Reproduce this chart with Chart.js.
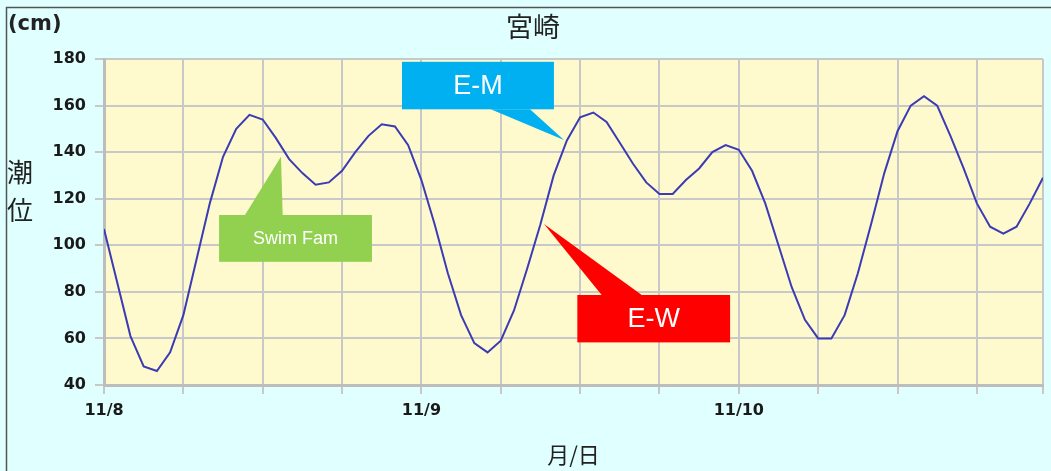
<!DOCTYPE html>
<html>
<head>
<meta charset="utf-8">
<script src="https://cdn.jsdelivr.net/npm/chart.js@4.4.1/dist/chart.umd.min.js"></script>
<style>
  html, body { margin: 0; padding: 0; background: #e0ffff; }
  #wrap { width: 1051px; height: 471px; }
</style>
</head>
<body>
<div id="wrap"><canvas id="tide" width="1051" height="471"></canvas></div>
<script>
// 宮崎の潮位 (cm)、11/8 0時から1時間ごと
var tide = [107, 84, 61, 48, 46, 54, 70, 94, 118, 138, 150, 156,
            154, 146, 137, 131, 126, 127, 132, 140, 147, 152, 151, 143,
            128, 109, 88, 70, 58, 54, 59, 72, 90, 109, 130, 145,
            155, 157, 153, 144, 135, 127, 122, 122, 128, 133, 140, 143,
            141, 132, 118, 100, 82, 68, 60, 60, 70, 88, 109, 131,
            149, 160, 164, 160, 147, 133, 118, 108, 105, 108, 118, 129];

// x軸の目盛り (時間)
var gridHours = [0, 6, 12, 18, 24, 30, 36, 42, 48, 54, 60, 66, 71];
var dayTicks = [0, 24, 48];
var dayLabels = ['11/8', '11/9', '11/10'];

// 吹き出し (データ座標: 時間, cm)
var callouts = [
  { text: 'Swim Fam', color: '#92d050', size: 18,
    box: [8.70, 20.26, 113.0, 92.9],
    arrow: [[10.66, 113.0], [13.51, 113.0], [13.38, 138.0]] },
  { text: 'E-M', color: '#00b0f0', size: 27,
    box: [22.53, 34.02, 178.8, 158.4],
    arrow: [[29.24, 158.4], [32.21, 158.4], [34.78, 145.2]] },
  { text: 'E-W', color: '#ff0000', size: 27,
    box: [35.79, 47.34, 78.65, 58.3],
    arrow: [[37.63, 78.65], [40.66, 78.65], [33.27, 109.1]] }
];

var cjk = "'Noto Sans CJK JP', 'Noto Sans', sans-serif";
var tickFont = { family: "'DejaVu Sans', sans-serif", size: 16, weight: 'bold' };

var decor = {
  id: 'decor',
  beforeDraw: function(chart) {
    var ctx = chart.ctx, a = chart.chartArea;
    ctx.save();
    ctx.fillStyle = '#e0ffff';
    ctx.fillRect(0, 0, chart.width, chart.height);
    ctx.fillStyle = '#fffacd';
    ctx.fillRect(a.left, a.top, a.right - a.left, a.bottom - a.top);
    // 外枠 (上と左)
    ctx.strokeStyle = '#555';
    ctx.lineWidth = 1.5;
    ctx.beginPath();
    ctx.moveTo(6.5, chart.height);
    ctx.lineTo(6.5, 7.5);
    ctx.lineTo(chart.width, 7.5);
    ctx.stroke();
    ctx.restore();
  },
  afterDatasetsDraw: function(chart) {
    var ctx = chart.ctx, xs = chart.scales.x, ys = chart.scales.y;
    ctx.save();
    callouts.forEach(function(c) {
      var x0 = xs.getPixelForValue(c.box[0]), x1 = xs.getPixelForValue(c.box[1]);
      var y0 = ys.getPixelForValue(c.box[2]), y1 = ys.getPixelForValue(c.box[3]);
      ctx.fillStyle = c.color;
      ctx.fillRect(x0, y0, x1 - x0, y1 - y0);
      ctx.beginPath();
      c.arrow.forEach(function(p, i) {
        var px = xs.getPixelForValue(p[0]), py = ys.getPixelForValue(p[1]);
        if (i === 0) ctx.moveTo(px, py); else ctx.lineTo(px, py);
      });
      ctx.closePath();
      ctx.fill();
      ctx.fillStyle = '#fff';
      ctx.font = c.size + "px 'Liberation Sans', sans-serif";
      ctx.textAlign = 'center';
      ctx.textBaseline = 'middle';
      ctx.fillText(c.text, (x0 + x1) / 2, (y0 + y1) / 2 + 1);
    });
    ctx.restore();
  },
  afterDraw: function(chart) {
    var ctx = chart.ctx, a = chart.chartArea;
    ctx.save();
    ctx.fillStyle = '#222';
    ctx.textBaseline = 'middle';
    ctx.textAlign = 'left';
    ctx.font = "bold 21px 'DejaVu Sans', sans-serif";
    ctx.fillText('(cm)', 8, 25);
    ctx.textAlign = 'center';
    ctx.font = '27px ' + cjk;
    ctx.fillText('宮崎', 533, 27);
    ctx.font = '26px ' + cjk;
    ctx.fillText('潮', 20, 172);
    ctx.fillText('位', 20, 210);
    ctx.font = '22px ' + cjk;
    ctx.fillText('月/日', (a.left + a.right) / 2, 455);
    ctx.restore();
  }
};

var ctx = document.getElementById('tide').getContext('2d');
var chart = new Chart(ctx, {
  type: 'line',
  data: {
    datasets: [{
      label: '潮位',
      data: tide.map(function(v, i) { return { x: i, y: v }; }),
      borderColor: '#3b3bb5',
      borderWidth: 2,
      pointRadius: 0,
      tension: 0,
      fill: false
    }]
  },
  options: {
    responsive: false,
    animation: false,
    devicePixelRatio: 1,
    layout: { padding: { left: 0, right: 8, top: 59, bottom: 0 } },
    plugins: {
      legend: { display: false },
      tooltip: { enabled: false }
    },
    scales: {
      x: {
        type: 'linear',
        min: 0,
        max: 71,
        afterBuildTicks: function(s) {
          s.ticks = gridHours.map(function(v) { return { value: v }; });
        },
        afterFit: function(s) { s.height = 86; },
        ticks: {
          autoSkip: false,
          maxRotation: 0,
          padding: 7,
          color: '#1a1a1a',
          font: tickFont,
          callback: function(v) {
            var i = dayTicks.indexOf(v);
            return i >= 0 ? dayLabels[i] : '';
          }
        },
        grid: { color: '#c8c8c8', lineWidth: 2, tickLength: 9 },
        border: { color: '#bdbdbd', width: 3 }
      },
      y: {
        min: 40,
        max: 180,
        afterFit: function(s) { s.width = 104; },
        ticks: { stepSize: 20, padding: 9, color: '#1a1a1a', font: tickFont },
        grid: { color: '#c8c8c8', lineWidth: 2, tickLength: 9 },
        border: { color: '#bdbdbd', width: 3 }
      }
    }
  },
  plugins: [decor]
});
</script>
</body>
</html>
